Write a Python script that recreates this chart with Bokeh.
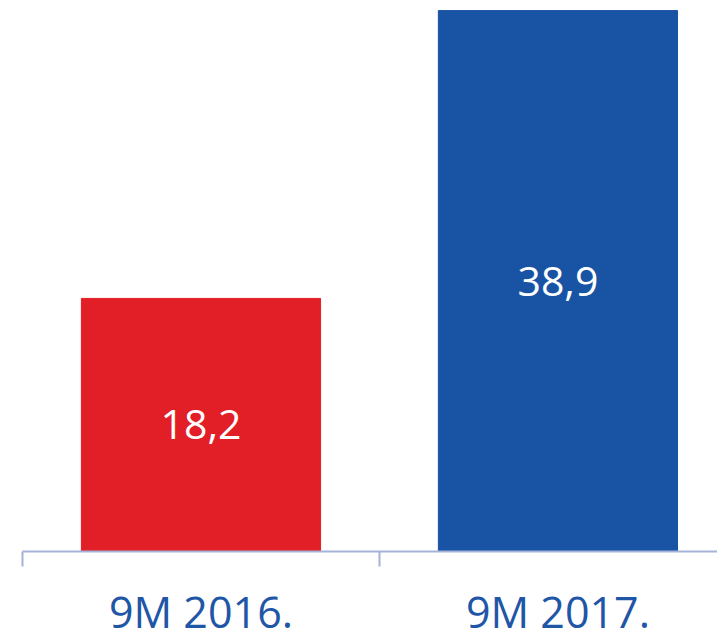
from bokeh.plotting import figure
from bokeh.models import Range1d, LinearAxis, FixedTicker, ColumnDataSource
from bokeh.core.properties import value
from bokeh.embed import file_html
from bokeh.resources import INLINE

categories = ["9M 2016.", "9M 2017."]
values = [18.2, 38.9]
value_labels = ["18,2", "38,9"]
bar_colors = ["#E21E26", "#1953A4"]

centers = [i + 0.5 for i in range(len(categories))]
boundaries = [i for i in range(len(categories) + 1)]

src = ColumnDataSource(dict(
    x=centers, top=values, mid=[v / 2 for v in values],
    color=bar_colors, lbl=value_labels,
))

p = figure(frame_width=695, frame_height=543,
           x_range=Range1d(0, 1.947), y_range=Range1d(0, 39.05),
           x_axis_type=None, y_axis_type=None,
           output_backend="svg", toolbar_location=None,
           min_border_left=22, min_border_right=0, min_border_top=8,
           min_border_bottom=0)
p.outline_line_color = None
p.background_fill_color = "white"
p.border_fill_color = "white"

p.vbar(x="x", top="top", bottom=0, width=0.67, color="color", source=src)
p.text(x="x", y="mid", text="lbl", source=src, text_align="center",
       text_baseline="middle", text_color="white",
       text_font=value("Open Sans"), text_font_size="41px")

ax = LinearAxis(ticker=FixedTicker(ticks=centers, minor_ticks=boundaries),
                major_label_overrides={c: n for c, n in zip(centers, categories)})
ax.axis_line_color = "#A6B3D9"
ax.axis_line_width = 2
ax.major_tick_line_color = None
ax.major_tick_out = 0
ax.major_tick_in = 0
ax.minor_tick_line_color = "#A6B3D9"
ax.minor_tick_line_width = 2
ax.minor_tick_out = 15
ax.minor_tick_in = 0
ax.major_label_standoff = 15
ax.major_label_text_font = "Open Sans"
ax.major_label_text_font_size = "43px"
ax.major_label_text_color = "#1F56A6"
p.add_layout(ax, "below")

open("out.html", "w").write(file_html(p, INLINE))
